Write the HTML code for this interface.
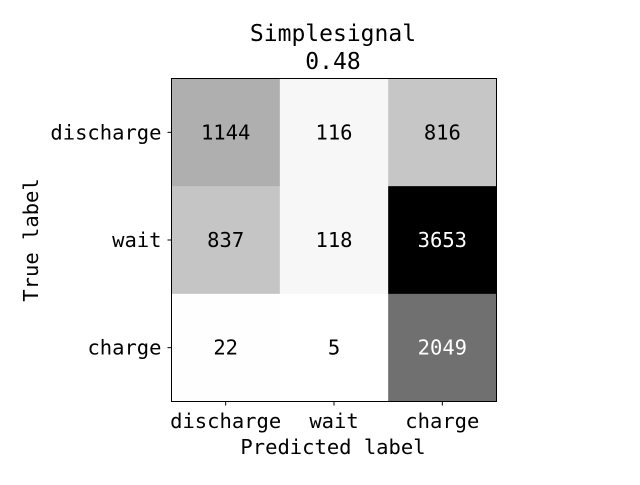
<!DOCTYPE html>
<html><head><meta charset="utf-8"><style>
body{margin:0;background:#fff}
svg text{font-family:"DejaVu Sans Mono","Liberation Mono",monospace;fill:#000}
</style></head><body>
<svg width="640" height="480" id="chart">
<text x="333" y="41" font-size="23" text-anchor="middle">Simplesignal</text>
<text x="333" y="69" font-size="23" text-anchor="middle">0.48</text>
<g id="cells"></g>
<rect x="171.5" y="78.5" width="325" height="323" fill="none" stroke="#000" stroke-width="1"/>
<g id="ticks"></g>
<text x="333" y="454" font-size="20.5" text-anchor="middle">Predicted label</text>
<text transform="translate(38,240) rotate(-90)" font-size="20.5" text-anchor="middle">True label</text>
</svg>
<script>
const categories=["discharge","wait","charge"];
const values=[[1144,116,816],[837,118,3653],[22,5,2049]];
const ns="http://www.w3.org/2000/svg";
const x0=171.5,y0=78.5,cw=325/3,ch=323/3;
const flat=values.flat(),vmin=Math.min(...flat),vmax=Math.max(...flat);
const cells=document.getElementById('cells'),ticks=document.getElementById('ticks');
function mk(t,a,p){const e=document.createElementNS(ns,t);for(const k in a)e.setAttribute(k,a[k]);p.appendChild(e);return e;}
values.forEach((row,i)=>row.forEach((v,j)=>{
 const g=Math.round(255*(1-(v-vmin)/(vmax-vmin)));
 const r=mk('rect',{x:x0+j*cw,y:y0+i*ch,width:cw+0.5,height:ch+0.5,fill:`rgb(${g},${g},${g})`},cells);
 
 
 const t=mk('text',{x:x0+(j+0.5)*cw,y:y0+(i+0.5)*ch+7,'font-size':20.5,'text-anchor':'middle'},cells);
 t.style.fill=v>vmax/2?'#fff':'#000';
 t.textContent=v;
 
 
}));
categories.forEach((c,k)=>{
 const cx=x0+(k+0.5)*cw,cy=y0+(k+0.5)*ch;
 mk('line',{x1:cx,x2:cx,y1:y0+323,y2:y0+323+4,stroke:'#000'},ticks);
 const tx=mk('text',{x:cx,y:428,'font-size':20.5,'text-anchor':'middle'},ticks);
 tx.textContent=c;
 
 
 mk('line',{x1:x0-4,x2:x0,y1:cy,y2:cy,stroke:'#000'},ticks);
 const ty=mk('text',{x:x0-10,y:cy+7,'font-size':20.5,'text-anchor':'end'},ticks);
 ty.textContent=c;
 
 
});
</script>
</body></html>
